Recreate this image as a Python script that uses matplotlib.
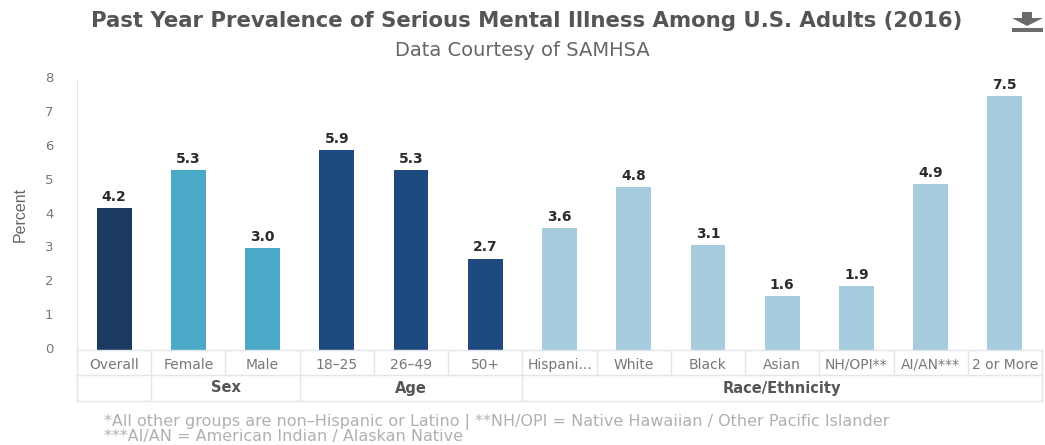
import matplotlib
matplotlib.use('Agg')
import matplotlib.pyplot as plt
from matplotlib.patches import Polygon, Rectangle
from matplotlib.transforms import ScaledTranslation

categories = ['Overall', 'Female', 'Male', '18-25', '26-49', '50+', 'Hispani...',
              'White', 'Black', 'Asian', 'NH/OPI**', 'AI/AN***', '2 or More']
values = [4.2, 5.3, 3.0, 5.9, 5.3, 2.7, 3.6, 4.8, 3.1, 1.6, 1.9, 4.9, 7.5]
bar_colors = ['#1b3a61', '#4aa9c6', '#4aa9c6', '#1f4a7f', '#1f4a7f', '#1f4a7f',
              '#a5cbdc', '#a5cbdc', '#a5cbdc', '#a5cbdc', '#a5cbdc', '#a5cbdc', '#a5cbdc']
group_names = ['', 'Sex', 'Age', 'Race/Ethnicity']
group_sizes = [1, 2, 3, 7]
y_ticks = [0, 1, 2, 3, 4, 5, 6, 7, 8]

W, H = 1045, 445
fig = plt.figure(figsize=(W / 100, H / 100), dpi=100)

# axes box in pixels: x 77-1042, y 79-350
ax = fig.add_axes([77 / W, 1 - 350 / H, (1042 - 77) / W, (350 - 79) / H])
ax.bar(range(len(values)), values, width=0.47, color=bar_colors)
ax.set_xlim(-0.5, 12.5)
ax.set_ylim(0, 8)

for i, v in enumerate(values):
    ax.text(i, v + 0.12, '%.1f' % v, ha='center', va='bottom', fontsize=10,
            fontweight='bold', color='#2b2b2b')

line_c = '#e1e5ec'
for name, s in ax.spines.items():
    s.set_visible(name == 'left')
    s.set_color(line_c)
ax.set_xticks([])
ax.set_yticks(y_ticks)
ax.tick_params(axis='y', length=0, pad=17, labelsize=9.5, labelcolor='#777777')
# labels sit a little above the value they mark
for lab in ax.get_yticklabels():
    lab.set_transform(lab.get_transform() + ScaledTranslation(0, 2 / 100, fig.dpi_scale_trans))
ax.set_ylabel('Percent', fontsize=11.5, color='#666666', family='Liberation Sans')
ax.yaxis.set_label_coords((28 - 77) / (1042 - 77), 0.5)

# Category table under the axis
trans = ax.get_xaxis_transform()
row1 = -(375 - 350) / (350 - 79)
row2 = -(401 - 350) / (350 - 79)
ax.plot([-0.5, 12.5], [0, 0], transform=trans, color=line_c, lw=1, clip_on=False)
ax.plot([-0.5, 12.5], [row1, row1], transform=trans, color=line_c, lw=1, clip_on=False)
ax.plot([-0.5, 12.5], [row2, row2], transform=trans, color=line_c, lw=1, clip_on=False)
for i, name in enumerate(categories):
    ax.text(i, row1 / 2 - 2.5 / 271, name.replace('-', '\u2013'), transform=trans, ha='center', va='center',
            fontsize=10, color='#777777')
    ax.plot([i - 0.5, i - 0.5], [0, row1], transform=trans, color=line_c, lw=1, clip_on=False)
ax.plot([12.5, 12.5], [0, row2], transform=trans, color=line_c, lw=1, clip_on=False)

start = -0.5
for name, size in zip(group_names, group_sizes):
    ax.plot([start, start], [row1, row2], transform=trans, color=line_c, lw=1, clip_on=False)
    ax.text(start + size / 2, (row1 + row2) / 2, name, transform=trans, ha='center', va='center',
            fontsize=10.5, fontweight='bold', color='#555555')
    start += size

# Titles and footnote
fig.text(91 / W, 1 - 21 / H, 'Past Year Prevalence of Serious Mental Illness Among U.S. Adults (2016)',
         ha='left', va='center', fontsize=15.3, fontweight='bold', color='#555555')
fig.text(522 / W, 1 - 51 / H, 'Data Courtesy of SAMHSA', ha='center', va='center',
         fontsize=14, color='#666666')
fig.text(104 / W, 1 - 422 / H, '*All other groups are non\u2013Hispanic or Latino | **NH/OPI = Native Hawaiian / Other Pacific Islander',
         ha='left', va='center', fontsize=11.5, color='#b0b0b0')
fig.text(104 / W, 1 - 437 / H, '***AI/AN = American Indian / Alaskan Native',
         ha='left', va='center', fontsize=11.5, color='#b0b0b0')

# Download icon
icon_c = '#6b6b6b'
arrow = [(1022, 12), (1032, 12), (1032, 18), (1043, 18), (1027, 26), (1012, 18), (1022, 18)]
fig.add_artist(Polygon([(x / W, 1 - y / H) for x, y in arrow], transform=fig.transFigure,
                       color=icon_c, lw=0))
fig.add_artist(Rectangle((1012 / W, 1 - 32 / H), 31 / W, 4 / H, transform=fig.transFigure,
                         color=icon_c, lw=0))

fig.savefig('out.png', dpi=100)
